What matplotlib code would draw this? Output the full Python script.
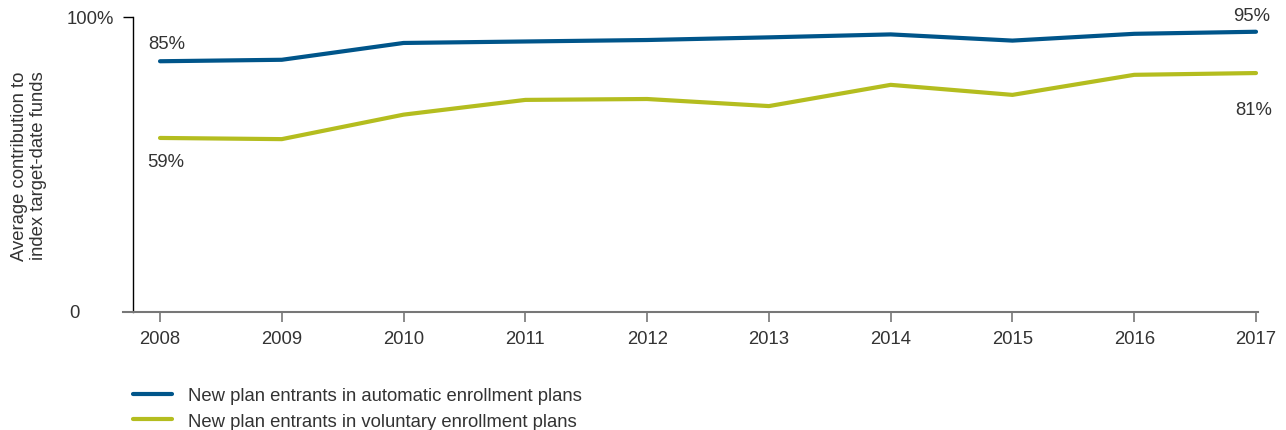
import matplotlib.pyplot as plt

plt.rcParams['font.family'] = ['Liberation Sans', 'DejaVu Sans']

years = [2008, 2009, 2010, 2011, 2012, 2013, 2014, 2015, 2016, 2017]
automatic = [85, 85.5, 91.2, 91.7, 92.2, 93.1, 94.1, 92.0, 94.3, 95]
voluntary = [59, 58.6, 66.9, 71.9, 72.2, 69.8, 77.0, 73.6, 80.4, 81]

BLUE = '#00558a'
GREEN = '#b4bd1f'
TEXT = '#333333'
FS = 13.3

fig = plt.figure(figsize=(12.86, 4.31), dpi=100)
ax = fig.add_axes([123 / 1286, 1 - 313 / 431, (1258 - 123) / 1286, (313 - 18) / 431])

ax.plot(years, automatic, color=BLUE, lw=3, solid_capstyle='round',
        label='New plan entrants in automatic enrollment plans')
ax.plot(years, voluntary, color=GREEN, lw=3, solid_capstyle='round',
        label='New plan entrants in voluntary enrollment plans')

ax.set_xlim(2008 - 37 / 121.7, 2017 + 2 / 121.7)
ax.set_ylim(0, 100)

# end-point labels
lab = dict(fontsize=FS, color=TEXT, ha='center', va='center', textcoords='offset points')
ax.annotate(f'{automatic[0]:.0f}%', (years[0], automatic[0]), xytext=(5, 12.5), **lab)
ax.annotate(f'{voluntary[0]:.0f}%', (years[0], voluntary[0]), xytext=(4, -17), **lab)
ax.annotate(f'{automatic[-1]:.0f}%', (years[-1], automatic[-1]), xytext=(-3, 11.5), **lab)
ax.annotate(f'{voluntary[-1]:.0f}%', (years[-1], voluntary[-1]), xytext=(-2, -26), **lab)

for s in ['top', 'right']:
    ax.spines[s].set_visible(False)
ax.spines['left'].set_position(('data', 2008 - 27 / 121.7))
ax.spines['left'].set_color('black')
ax.spines['left'].set_linewidth(1)
ax.spines['bottom'].set_color('#777777')
ax.spines['bottom'].set_linewidth(1.5)

ax.set_xticks(years)
ax.set_xticklabels([str(y) for y in years])
ax.tick_params(axis='x', length=7, width=1.2, color='#777777', labelsize=FS,
               labelcolor=TEXT, pad=6)
ax.set_yticks([100])
ax.set_yticklabels(['100%'])
ax.tick_params(axis='y', length=7, width=1, color='black', labelsize=FS,
               labelcolor=TEXT, pad=7)
ax.text(-0.043, 0, '0', transform=ax.transAxes, fontsize=FS, color=TEXT,
        ha='center', va='center')

fig.text(29 / 1286, 1 - 166 / 431, 'Average contribution to\nindex target-date funds',
         rotation=90, fontsize=FS, color=TEXT, ha='center', va='center',
         linespacing=1.15)

fig.legend(loc='upper left', bbox_to_anchor=(126 / 1286, 1 - 381 / 431),
           frameon=False, fontsize=FS, labelcolor=TEXT, handlelength=2.1,
           handletextpad=0.85, labelspacing=0.45, borderaxespad=0)

fig.savefig('out.png', dpi=100)
